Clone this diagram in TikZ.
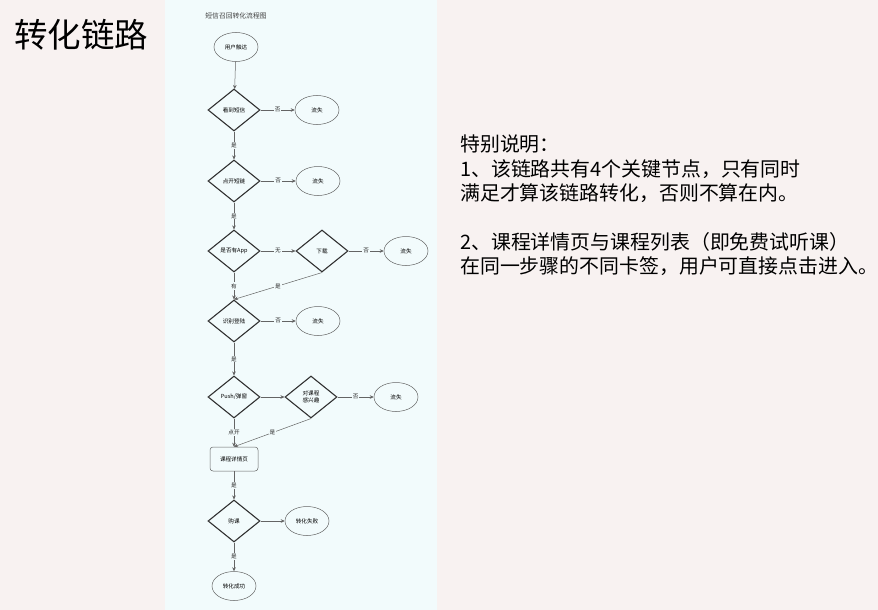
\documentclass[tikz,border=0pt]{standalone}
\usepackage{fontspec}
\setmainfont{Noto Sans CJK SC}
\usetikzlibrary{shapes.geometric,arrows.meta}
\definecolor{pagebg}{RGB}{248,242,241}
\definecolor{panelbg}{RGB}{242,251,252}
\definecolor{edgecol}{RGB}{100,100,100}
\definecolor{shapecol}{RGB}{50,50,50}
\tikzset{
  small/.style={font=\fontsize{5.6}{6.8}\selectfont},
  decision/.style={small, diamond, draw=shapecol, line width=1.1pt, aspect=1.24,
    minimum width=52pt, minimum height=42pt, inner sep=0pt, align=center},
  terminal/.style={small, ellipse, draw=edgecol, line width=0.5pt,
    minimum width=44pt, minimum height=29pt, inner sep=0pt},
  pagebox/.style={small, rectangle, rounded corners=3pt, draw=edgecol, line width=0.5pt,
    minimum width=48pt, minimum height=24pt, inner sep=0pt},
  flow/.style={draw=edgecol, line width=0.5pt, -{Stealth[length=4pt,width=3.6pt]}},
  lbl/.style={small, fill=panelbg, inner sep=1pt, text=black!85},
  note/.style={anchor=base west, inner sep=0pt, font=\fontsize{19.9}{24}\selectfont},
}
\begin{document}
\begin{tikzpicture}[x=1pt, y=-1pt]
  \useasboundingbox (0,0) rectangle (878,610);
  \fill[pagebg] (0,0) rectangle (878,610);
  \fill[panelbg] (165,0) rectangle (437,610);
  \node[anchor=base west, inner sep=0pt, font=\fontsize{33.5}{36}\selectfont] (title) at (14,47.5) {转化链路};
  \node[small, font=\fontsize{6.8}{8}\selectfont, text=black!75] (chart) at (236,16) {短信召回转化流程图};
  \node[terminal] (reach) at (236,47) {用户触达};
  \node[decision] (see) at (234,110) {看到短信};
  \node[terminal] (lost1) at (317,110) {流失};
  \node[decision] (open) at (234,181) {点开短链};
  \node[terminal] (lost2) at (318,181) {流失};
  \node[decision] (app) at (234,251) {是否有App};
  \node[decision] (dl) at (322,251) {下载};
  \node[terminal] (lost3) at (406,251) {流失};
  \node[decision] (login) at (234,321) {识别登陆};
  \node[terminal] (lost4) at (318,321) {流失};
  \node[decision] (push) at (234,397) {Push/弹窗};
  \node[decision] (interest) at (311,397) {对课程\\感兴趣};
  \node[terminal] (lost5) at (396,397) {流失};
  \node[pagebox] (detail) at (234,459) {课程详情页};
  \node[decision] (buy) at (234,521) {购课};
  \node[terminal] (fail) at (307,521) {转化失败};
  \node[terminal] (success) at (234,586) {转化成功};
  \draw[flow] (reach) -- (see);
  \draw[flow] (see) -- node[lbl] {否} (lost1);
  \draw[flow] (see) -- node[lbl] {是} (open);
  \draw[flow] (open) -- node[lbl] {否} (lost2);
  \draw[flow] (open) -- node[lbl] {是} (app);
  \draw[flow] (app) -- node[lbl] {无} (dl);
  \draw[flow] (dl) -- node[lbl] {否} (lost3);
  \draw[flow] (app) -- node[lbl] {有} (login);
  \draw[flow] (dl.south) -- node[lbl] {是} (login.north);
  \draw[flow] (login) -- node[lbl] {否} (lost4);
  \draw[flow] (login) -- node[lbl] {是} (push);
  \draw[flow] (push) -- (interest);
  \draw[flow] (interest) -- node[lbl] {否} (lost5);
  \draw[flow] (push) -- node[lbl] {点开} (detail);
  \draw[flow] (interest.south) -- node[lbl] {是} (detail.north);
  \draw[flow] (detail) -- node[lbl] {是} (buy);
  \draw[flow] (buy) -- (fail);
  \draw[flow] (buy) -- node[lbl] {是} (success);
  \node[note] (n1) at (460,151.5) {特别说明：};
  \node[note] (n2) at (460,176) {1、该链路共有4个关键节点，只有同时};
  \node[note] (n3) at (460,200.5) {满足才算该链路转化，否则不算在内。};
  \node[note] (n4) at (460,249.5) {2、课程详情页与课程列表（即免费试听课）};
  \node[note] (n5) at (460,273.5) {在同一步骤的不同卡签，用户可直接点击进入。};
\end{tikzpicture}
\end{document}
